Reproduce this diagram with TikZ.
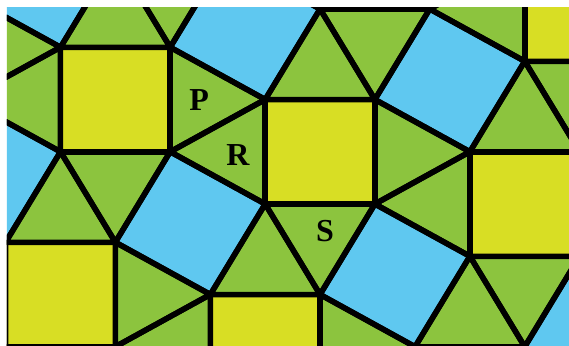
\documentclass[tikz,border=0pt]{standalone}
\usepackage{fontspec}
\setmainfont{Liberation Serif}
\definecolor{tgreen}{RGB}{140,196,62}
\definecolor{tyellow}{RGB}{216,222,36}
\definecolor{tblue}{RGB}{95,200,240}
\begin{document}
\begin{tikzpicture}[x=109.7pt,y=104.5pt,
  edge/.style={line width=5.5pt, line join=round, draw=black},
  lab/.style={font=\fontsize{32}{32}\selectfont\bfseries, inner sep=0pt}]
\useasboundingbox (-2.4175,0.9522) rectangle (2.7694,-2.3493);
\fill[white] (-2.4175,0.9522) rectangle (2.7694,-2.3493);
\begin{scope}
\clip (-2.3537,0.8852) rectangle (2.7694,-2.3493);
\foreach \m in {-3,...,3}{
 \foreach \n in {-3,...,3}{
  \begin{scope}[shift={({\m*1.8660254+\n*0.5},{-\m*0.5+\n*1.8660254})}]
   \fill[tyellow] (0,0)--(1,0)--(1,-1)--(0,-1)--cycle;
   \fill[tblue] (1,0)--(1.8660254,-0.5)--(2.3660254,0.3660254)--(1.5,0.8660254)--cycle;
   \fill[tgreen] (0,0)--(1,0)--(0.5,0.8660254)--cycle;
   \fill[tgreen] (1,0)--(1.5,0.8660254)--(0.5,0.8660254)--cycle;
   \fill[tgreen] (1,0)--(1.8660254,-0.5)--(1,-1)--cycle;
   \fill[tgreen] (1,-1)--(1.8660254,-0.5)--(1.8660254,-1.5)--cycle;
  \end{scope}
 }}
\foreach \m in {-3,...,3}{
 \foreach \n in {-3,...,3}{
  \begin{scope}[shift={({\m*1.8660254+\n*0.5},{-\m*0.5+\n*1.8660254})}]
   \path[edge] (0,0)--(1,0)--(1,-1)--(0,-1)--cycle;
   \path[edge] (1,0)--(1.8660254,-0.5)--(2.3660254,0.3660254)--(1.5,0.8660254)--cycle;
   \path[edge] (0,0)--(1,0)--(0.5,0.8660254)--cycle;
   \path[edge] (1,0)--(1.5,0.8660254)--(0.5,0.8660254)--cycle;
   \path[edge] (1,0)--(1.8660254,-0.5)--(1,-1)--cycle;
   \path[edge] (1,-1)--(1.8660254,-0.5)--(1.8660254,-1.5)--cycle;
  \end{scope}
 }}
\end{scope}
\node[lab] (P) at (-0.603,-0.005) {P};
\node[lab] (R) at (-0.248,-0.531) {R};
\node[lab] (S) at (0.545,-1.258) {S};
\end{tikzpicture}
\end{document}
